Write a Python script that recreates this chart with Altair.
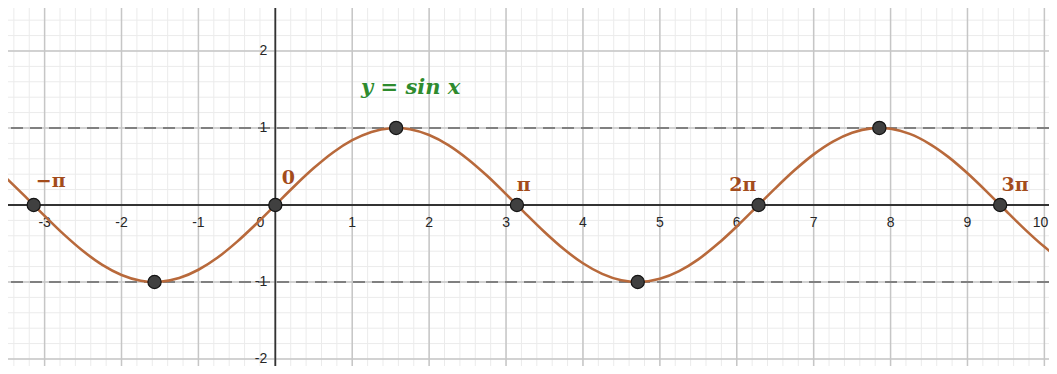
import altair as alt
import pandas as pd

# ---- data -------------------------------------------------------------
# sampled curve y = sin x (values read from the graph)
curve_x = [i * 0.25 for i in range(-14, 42)]
curve_y = [0.351, 0.108, -0.141, -0.382, -0.598, -0.778, -0.909, -0.984,
           -0.997, -0.949, -0.841, -0.682, -0.479, -0.247, 0.0,
           0.247, 0.479, 0.682, 0.841, 0.949, 0.997, 0.984, 0.909, 0.778,
           0.598, 0.382, 0.141, -0.108, -0.351, -0.572, -0.757, -0.895,
           -0.978, -0.999, -0.959, -0.859, -0.706, -0.508, -0.279, -0.033,
           0.215, 0.450, 0.657, 0.823, 0.938, 0.995, 0.989, 0.923, 0.798,
           0.625, 0.412, 0.174, -0.075, -0.320, -0.544, -0.735]

# marked points (zeros and extrema)
key_x = [-3.1416, -1.5708, 0.0, 1.5708, 3.1416, 4.7124, 6.2832, 7.8540, 9.4248]
key_y = [0, -1, 0, 1, 0, -1, 0, 1, 0]

# labels of the zeros
pi_labels = ["\u2212\u03c0", "0", "\u03c0", "2\u03c0", "3\u03c0"]
pi_label_x = [-2.92, 0.17, 3.23, 6.08, 9.62]
pi_label_y = [0.31, 0.35, 0.26, 0.26, 0.26]

formula_text = ["y = sin x"]
formula_x = [1.76]
formula_y = [1.52]

# bounds y = 1 and y = -1
bound_y = [1, -1]

# axis ticks
x_ticks = [-3, -2, -1, 1, 2, 3, 4, 5, 6, 7, 8, 9]
x_last_tick = [10]
y_ticks = [-2, -1, 1, 2]
major_x = list(range(-3, 11))
major_y = [-2, -1, 0, 1, 2]
minor_x = [i / 5 for i in range(-17, 51)]
minor_y = [i / 5 for i in range(-10, 13)]

x_domain = [-3.476, 10.06]
y_domain = [-2.091, 2.558]

# ---- chart ------------------------------------------------------------
xs = alt.Scale(domain=x_domain, nice=False, zero=False)
ys = alt.Scale(domain=y_domain, nice=False, zero=False)

pts = sorted(list(zip(curve_x, curve_y)) + list(zip(key_x, key_y)))
curve_df = pd.DataFrame({"x": [p[0] for p in pts], "y": [p[1] for p in pts]})
key_df = pd.DataFrame({"x": key_x, "y": key_y})

X = lambda f="x": alt.X(f"{f}:Q", scale=xs, axis=None)
Y = lambda f="y": alt.Y(f"{f}:Q", scale=ys, axis=None)

minor_v = alt.Chart(pd.DataFrame({"x": minor_x})).mark_rule(
    color="#ebebeb", strokeWidth=1).encode(x=X())
minor_h = alt.Chart(pd.DataFrame({"y": minor_y})).mark_rule(
    color="#ebebeb", strokeWidth=1).encode(y=Y())
major_v = alt.Chart(pd.DataFrame({"x": major_x})).mark_rule(
    color="#c6c6c6", strokeWidth=1.5).encode(x=X())
major_h = alt.Chart(pd.DataFrame({"y": major_y})).mark_rule(
    color="#c6c6c6", strokeWidth=1.5).encode(y=Y())

bounds = alt.Chart(pd.DataFrame({"y": bound_y})).mark_rule(
    color="#808080", strokeWidth=2, strokeDash=[12, 7]).encode(y=Y())

axis_x = alt.Chart(pd.DataFrame({"y": [0]})).mark_rule(
    color="#333333", strokeWidth=1.8).encode(y=Y())
axis_y = alt.Chart(pd.DataFrame({"x": [0]})).mark_rule(
    color="#333333", strokeWidth=1.8).encode(x=X())

label_style = dict(font="Liberation Sans", fontSize=14, color="#262626",
                   baseline="middle")

xt_df = pd.DataFrame({"x": x_ticks, "y": [0] * len(x_ticks),
                      "t": [str(v) for v in x_ticks]})
x_labels = alt.Chart(xt_df).mark_text(
    dy=18, align="center", **label_style).encode(x=X(), y=Y(), text="t:N")
xl_df = pd.DataFrame({"x": x_last_tick, "y": [0], "t": [str(v) for v in x_last_tick]})
x_last_label = alt.Chart(xl_df).mark_text(
    dy=18, dx=4, align="right", **label_style).encode(x=X(), y=Y(), text="t:N")
origin_label = alt.Chart(pd.DataFrame({"x": [0], "y": [0], "t": ["0"]})).mark_text(
    dy=18, dx=-15, align="center", **label_style).encode(x=X(), y=Y(), text="t:N")
yt_df = pd.DataFrame({"x": [0] * len(y_ticks), "y": y_ticks,
                      "t": [str(v) for v in y_ticks]})
y_labels = alt.Chart(yt_df).mark_text(
    dx=-8, align="right", **label_style).encode(x=X(), y=Y(), text="t:N")

curve = alt.Chart(curve_df).mark_line(
    color="#b8693b", strokeWidth=2.6, interpolate="monotone", clip=True
).encode(x=X(), y=Y())

points = alt.Chart(key_df).mark_circle(
    size=175, color="#404040", opacity=1, stroke="#151515", strokeWidth=1.2
).encode(x=X(), y=Y())

pl_df = pd.DataFrame({"x": pi_label_x, "y": pi_label_y, "t": pi_labels})
pi_text = alt.Chart(pl_df).mark_text(
    font="DejaVu Serif", fontSize=19, fontWeight="bold", color="#a34c1c",
    baseline="middle", align="center").encode(x=X(), y=Y(), text="t:N")

f_df = pd.DataFrame({"x": formula_x, "y": formula_y, "t": formula_text})
f_text = alt.Chart(f_df).mark_text(
    font="DejaVu Serif", fontSize=21, fontWeight="bold", fontStyle="italic",
    color="#2e8b2e", baseline="middle", align="center").encode(
    x=X(), y=Y(), text="t:N")

chart = alt.layer(
    minor_v, minor_h, major_v, major_h, bounds, axis_x, axis_y,
    x_labels, x_last_label, origin_label, y_labels, curve, points, pi_text, f_text
).properties(
    width=1041, height=358, padding=0, autosize=alt.AutoSizeParams(type="none"),
    background="white"
).configure_view(stroke=None)

chart.save("out.html", embed_options={"renderer": "svg", "actions": False})
